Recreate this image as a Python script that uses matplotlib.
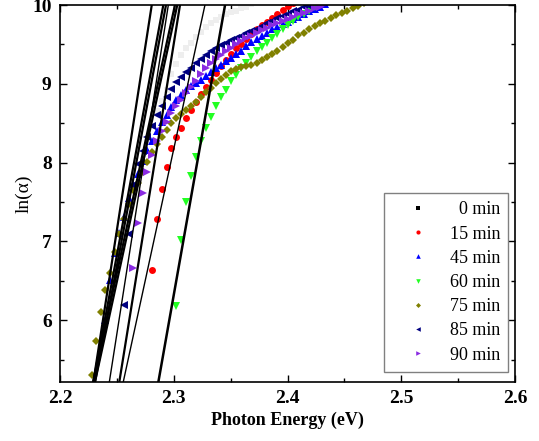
import numpy as np
import matplotlib
matplotlib.use("Agg")
import matplotlib.pyplot as plt
from matplotlib.ticker import MultipleLocator

plt.rcParams['font.family'] = ['Liberation Serif', 'DejaVu Serif']

# shared photon energy grid (eV)
energy = [2.2278, 2.2318, 2.2359, 2.2399, 2.2439, 2.2480, 2.2521, 2.2562, 2.2603, 2.2644,
          2.2686, 2.2727, 2.2769, 2.2811, 2.2853, 2.2895, 2.2937, 2.2980, 2.3023, 2.3065,
          2.3109, 2.3152, 2.3195, 2.3238, 2.3282, 2.3326, 2.3370, 2.3414, 2.3458, 2.3503,
          2.3547, 2.3592, 2.3637, 2.3682, 2.3728, 2.3773, 2.3819, 2.3865, 2.3911, 2.3957,
          2.4003, 2.4050, 2.4096, 2.4143, 2.4190, 2.4238, 2.4285, 2.4333, 2.4381, 2.4429,
          2.4477, 2.4525, 2.4574, 2.4623, 2.4672]

# ln(alpha) per annealing time, each starting at a grid index
ln_0min = [8.65, 8.78, 8.92, 9.12, 9.25, 9.36, 9.45, 9.52, 9.60, 9.66,
           9.72, 9.77, 9.81, 9.85, 9.88, 9.91, 9.93, 9.96, 9.98, 10.01]
start_0min = 14

ln_15min = [6.64, 7.28, 7.66, 7.95, 8.18, 8.32, 8.44, 8.56, 8.67, 8.77,
            8.87, 8.96, 9.05, 9.14, 9.22, 9.30, 9.38, 9.45, 9.51, 9.57,
            9.63, 9.69, 9.74, 9.79, 9.84, 9.89, 9.94, 9.99, 10.03]
start_15min = 13

ln_45min = [6.00, 6.51, 6.85, 7.11, 7.31, 7.55, 7.73, 7.86, 8.02, 8.16,
            8.28, 8.40, 8.51, 8.61, 8.71, 8.79, 8.86, 8.92, 8.97, 9.01,
            9.05, 9.10, 9.15, 9.20, 9.24, 9.29, 9.33, 9.38, 9.42, 9.48,
            9.53, 9.57, 9.61, 9.65, 9.69, 9.72, 9.76, 9.79, 9.82, 9.85,
            9.89, 9.92, 9.95, 9.98, 10.01]
start_45min = 3

ln_60min = [6.18, 7.02, 7.50, 7.83, 8.07, 8.28, 8.44, 8.58, 8.72, 8.83,
            8.92, 9.04, 9.11, 9.20, 9.27, 9.34, 9.42, 9.47, 9.52, 9.58,
            9.63, 9.69, 9.74, 9.80, 9.85, 9.89, 9.93, 9.97, 10.01]
start_60min = 18

ln_75min = [5.31, 5.74, 6.11, 6.38, 6.60, 6.87, 7.10, 7.28, 7.47, 7.65,
            7.74, 7.88, 8.01, 8.14, 8.24, 8.33, 8.42, 8.50, 8.57, 8.62,
            8.67, 8.72, 8.77, 8.83, 8.89, 8.95, 9.01, 9.06, 9.11, 9.16,
            9.19, 9.21, 9.22, 9.24, 9.26, 9.30, 9.34, 9.38, 9.42, 9.47,
            9.52, 9.56, 9.62, 9.65, 9.69, 9.73, 9.77, 9.80, 9.84, 9.87,
            9.90, 9.93, 9.96, 9.99, 10.02]
start_75min = 0

ln_85min = [6.19, 7.10, 7.72, 7.98, 8.15, 8.33, 8.47, 8.60, 8.72, 8.83,
            8.93, 9.02, 9.09, 9.15, 9.20, 9.26, 9.31, 9.37, 9.42, 9.46,
            9.49, 9.52, 9.55, 9.58, 9.61, 9.64, 9.67, 9.70, 9.73, 9.77,
            9.80, 9.83, 9.86, 9.89, 9.92, 9.94, 9.97, 9.99, 10.02]
start_85min = 7

ln_90min = [6.66, 7.23, 7.61, 7.88, 8.10, 8.27, 8.40, 8.52, 8.63, 8.72,
            8.80, 8.88, 8.96, 9.04, 9.12, 9.20, 9.26, 9.31, 9.36, 9.41,
            9.46, 9.50, 9.54, 9.58, 9.61, 9.65, 9.68, 9.71, 9.74, 9.77,
            9.80, 9.82, 9.85, 9.88, 9.90, 9.93, 9.96, 9.98, 10.01]
start_90min = 9

# linear fits ln(alpha) = slope * E + intercept
fit_slope = [93.17, 77.74, 76.64, 92.23, 66.60, 66.12, 89.66, 66.61, 81.60]
fit_intercept = [-202.49, -168.09, -165.75, -201.69, -143.25, -142.28, -196.71, -145.03, -181.36]
fit_width = [1.6, 1.6, 1.6, 1.0, 1.6, 1.6, 1.6, 1.0, 1.8]

# "0 min" padded with a figure space so the labels line up on the right
labels = ["\u20070 min", "15 min", "45 min", "60 min", "75 min", "85 min", "90 min"]
values = [ln_0min, ln_15min, ln_45min, ln_60min, ln_75min, ln_85min, ln_90min]
starts = [start_0min, start_15min, start_45min, start_60min, start_75min, start_85min, start_90min]
markers = ['s', 'o', '^', 'v', 'D', '<', '>']
colors = ['#eeeeee', '#ff0000', '#0000ff', '#22ff22', '#808000', '#000080', '#8a2be2']
sizes = [5, 5, 5.5, 5.5, 4.2, 5.5, 5.5]

fig = plt.figure(figsize=(5.39, 4.41), dpi=100)
ax = fig.add_axes([60 / 539, 59 / 441, 455 / 539, 377 / 441])

for lab, vals, st, mk, col, ms in zip(labels, values, starts, markers, colors, sizes):
    e = energy[st:st + len(vals)]
    ax.plot(e, vals, linestyle='none', marker=mk, color=col, markersize=ms,
            markeredgewidth=0, label=lab, zorder=2)

e_line = np.array([2.2, 2.6])
for m, b, lw in zip(fit_slope, fit_intercept, fit_width):
    ax.plot(e_line, m * e_line + b, color='black', linewidth=lw, zorder=3)

ax.set_xlim(2.2, 2.6)
ax.set_ylim(5.216, 10)
ax.xaxis.set_major_locator(MultipleLocator(0.1))
ax.xaxis.set_minor_locator(MultipleLocator(0.05))
ax.yaxis.set_major_locator(MultipleLocator(1))
ax.yaxis.set_minor_locator(MultipleLocator(0.5))
ax.tick_params(which='both', direction='in', top=True, right=True, width=1.0)
ax.tick_params(which='major', length=5, pad=6, labelsize=14)
ax.tick_params(which='minor', length=3)
for t in ax.get_xticklabels() + ax.get_yticklabels():
    t.set_fontweight('bold')
for sp in ax.spines.values():
    sp.set_linewidth(1.2)

ax.set_xlabel('Photon Energy (eV)', fontsize=13, fontweight='bold', labelpad=3)
ax.set_ylabel('ln(α)', fontsize=14, labelpad=0)

leg = ax.legend(loc='lower right', bbox_to_anchor=(0.985, 0.027), borderaxespad=0,
                fontsize=13, fancybox=False, edgecolor='#808080', framealpha=1,
                handlelength=2.9, handletextpad=0.3, labelspacing=0.4,
                borderpad=0.45, markerscale=0.6)
leg.get_frame().set_linewidth(1.0)
leg.legend_handles[0].set_color('black')

fig.savefig('out.png', dpi=100)
